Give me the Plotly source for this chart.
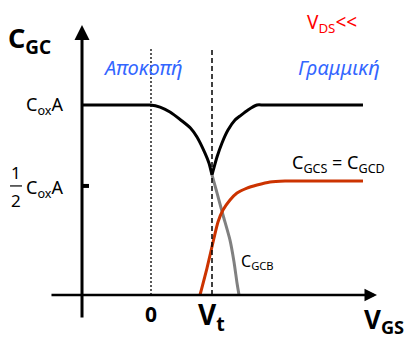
import plotly.graph_objects as go

# Gate-capacitance curves vs. V_GS (x in units of V_t, y in units of C_ox*A)
v_black_left = [-1.131, -0.150, -0.016, 0.148, 0.311, 0.508, 0.650, 0.754, 0.885, 0.950, 1.000]
c_black_left = [1.000, 1.000, 1.000, 0.989, 0.963, 0.916, 0.878, 0.832, 0.747, 0.695, 0.632]

v_black_right = [1.000, 1.082, 1.164, 1.262, 1.377, 1.459, 1.590, 1.738, 1.850, 3.475]
c_black_right = [0.632, 0.726, 0.800, 0.868, 0.921, 0.942, 0.974, 1.000, 1.000, 1.000]

v_gcb = [1.000, 1.082, 1.180, 1.295, 1.361, 1.410, 1.443]
c_gcb = [0.632, 0.537, 0.421, 0.289, 0.174, 0.063, 0.000]

v_gcs = [0.803, 0.918, 1.033, 1.098, 1.180, 1.295, 1.410, 1.574, 1.738, 1.951, 2.197, 2.400, 3.475]
c_gcs = [0.000, 0.142, 0.300, 0.384, 0.447, 0.500, 0.537, 0.563, 0.579, 0.595, 0.600, 0.600, 0.600]

# Axis extents and reference levels
x_axis_span = [-1.656, 3.705]
y_axis_span = [-0.126, 1.421]
y_axis_pos = -1.131
v_zero = 0.0
v_t = 1.0
guide_top = 1.305
half_level = 0.574

FONT = "Noto Sans"
BLACK = "#000000"
RED_CURVE = "#CC3300"
GRAY = "#808080"
BLUE = "#3366FF"

fig = go.Figure()

line_w = 3
curve = dict(width=line_w, shape="spline", smoothing=0.6)
fig.add_trace(go.Scatter(x=v_black_left, y=c_black_left, mode="lines",
                         line=dict(color=BLACK, **curve)))
fig.add_trace(go.Scatter(x=v_black_right, y=c_black_right, mode="lines",
                         line=dict(color=BLACK, **curve)))
fig.add_trace(go.Scatter(x=v_gcb, y=c_gcb, mode="lines",
                         line=dict(color=GRAY, **curve)))
fig.add_trace(go.Scatter(x=v_gcs, y=c_gcs, mode="lines",
                         line=dict(color=RED_CURVE, **curve)))

shapes = [
    # dotted guide at V_GS = 0
    dict(type="line", x0=v_zero, x1=v_zero, y0=0, y1=guide_top,
         line=dict(color=BLACK, width=1.3, dash="2px,2px")),
    # dashed guide at V_t
    dict(type="line", x0=v_t, x1=v_t, y0=0, y1=guide_top,
         line=dict(color=BLACK, width=1.5, dash="5px,3px")),
    # tick for half level on the vertical axis
    dict(type="line", x0=y_axis_pos, x1=y_axis_pos + 0.115, y0=half_level, y1=half_level,
         line=dict(color=BLACK, width=4)),
    # fraction bar of 1/2
    dict(type="line", x0=-2.311, x1=-2.115, y0=half_level, y1=half_level,
         line=dict(color=BLACK, width=1.2)),
]

annotations = [
    # horizontal axis with arrow
    dict(x=x_axis_span[1], y=0, ax=x_axis_span[0], ay=0, axref="x", ayref="y",
         xref="x", yref="y", showarrow=True, arrowhead=2, arrowsize=1,
         arrowwidth=2.5, arrowcolor=BLACK, text=""),
    # vertical axis with arrow
    dict(x=y_axis_pos, y=y_axis_span[1], ax=y_axis_pos, ay=y_axis_span[0], axref="x", ayref="y",
         xref="x", yref="y", showarrow=True, arrowhead=2, arrowsize=1,
         arrowwidth=3, arrowcolor=BLACK, text=""),
]

def label(text, x, y, size, color=BLACK, xanchor="center", yanchor="middle"):
    annotations.append(dict(text=text, x=x, y=y, xref="x", yref="y", showarrow=False,
                            xanchor=xanchor, yanchor=yanchor,
                            font=dict(family=FONT, size=size, color=color)))

label("<b>C<sub>GC</sub></b>", -1.984, 1.345, 27)
label("C<sub>ox</sub>A", -1.754, 1.0, 18)
label("1", -2.213, 0.645, 17)
label("2", -2.213, 0.500, 17)
label("C<sub>ox</sub>A", -1.754, 0.560, 18)
label("<i>Αποκοπή</i>", -0.131, 1.2, 20, BLUE)
label("<i>Γραμμική</i>", 3.082, 1.2, 20, BLUE)
label("V<sub>DS</sub><<", 2.967, 1.43, 19, "#FF0000")
label("C<sub>GCS</sub> = C<sub>GCD</sub>", 3.066, 0.69, 18)
label("C<sub>GCB</sub>", 1.738, 0.175, 16)
label("<b>0</b>", v_zero, -0.10, 21)
label("<b>V<sub>t</sub></b>", 0.99, -0.11, 28)
label("<b>V<sub>GS</sub></b>", 3.82, -0.13, 26)

fig.update_layout(
    width=409, height=338,
    margin=dict(l=0, r=0, t=0, b=0),
    paper_bgcolor="white", plot_bgcolor="white",
    showlegend=False,
    xaxis=dict(range=[-151 / 61, 258 / 61], visible=False, fixedrange=True),
    yaxis=dict(range=[-43 / 190, 295 / 190], visible=False, fixedrange=True),
    shapes=shapes,
    annotations=annotations,
)

fig.write_html("out.html")
